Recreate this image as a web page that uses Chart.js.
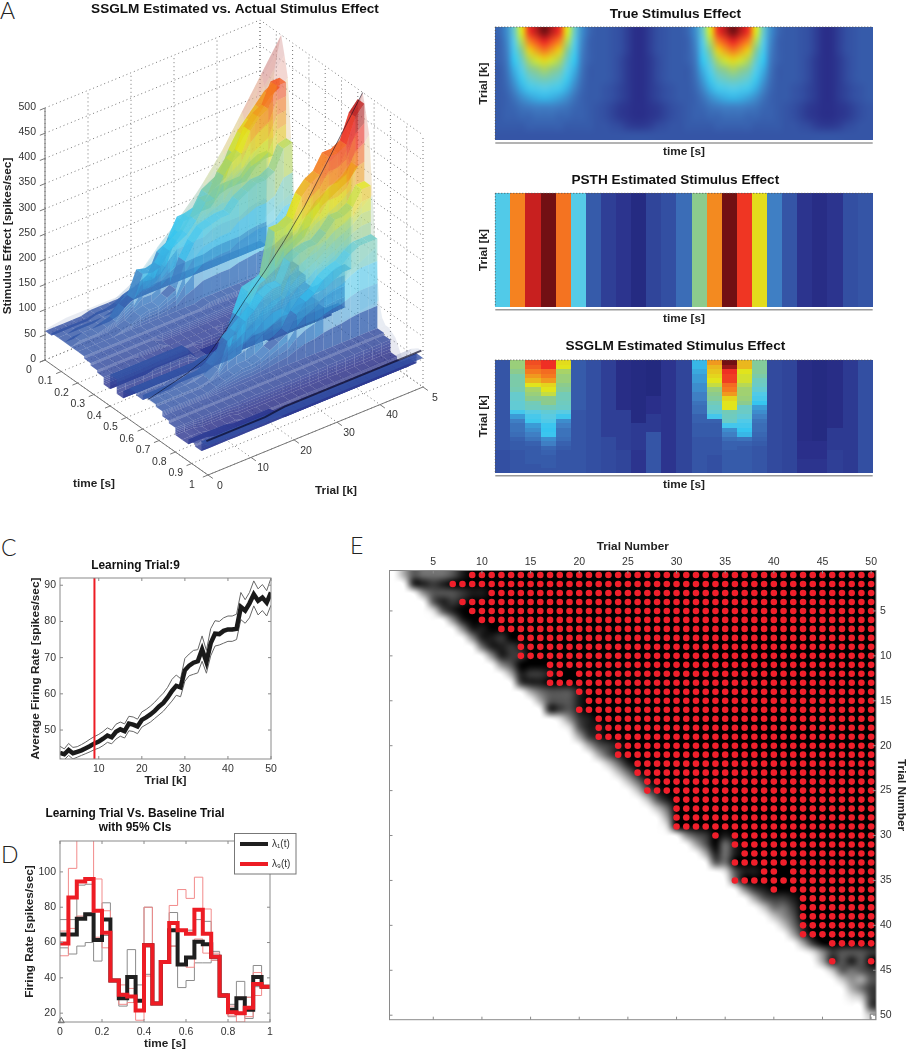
<!DOCTYPE html>
<html>
<head>
<meta charset="utf-8">
<title>Stimulus effect figure</title>
<script src="https://cdn.jsdelivr.net/npm/chart.js@4/dist/chart.umd.js"></script>
<style>
  html, body { margin: 0; background: #fff; }
  body { position: relative; width: 907px; height: 1050px; overflow: hidden; }
  canvas { position: absolute; }
  .letter { position: absolute; font: 300 23px Lato, "Open Sans", sans-serif; color: #222; line-height: 1; }
</style>
</head>
<body>
<div class="letter" style="left:0px;top:-1px">A</div>
<div class="letter" style="left:1px;top:536px">C</div>
<div class="letter" style="left:1px;top:843px">D</div>
<div class="letter" style="left:350px;top:534px">E</div>
<canvas id="surface" style="left:0;top:0" width="470" height="520"></canvas>
<canvas id="trueMap" style="left:478px;top:0" width="414" height="162"></canvas>
<canvas id="psthMap" style="left:478px;top:166px" width="414" height="163"></canvas>
<canvas id="ssglmMap" style="left:478px;top:333px" width="414" height="162"></canvas>
<canvas id="learning" style="left:0;top:550px" width="333" height="240"></canvas>
<canvas id="compare" style="left:0;top:790px" width="336" height="260"></canvas>
<canvas id="matrix" style="left:380px;top:530px" width="527" height="500"></canvas>

<script>
// ================= DATA =================

// colour levels are percent of the jet range
const psthLevels = [36, 75, 91, 100, 77, 37, 14, 9, 7, 4, 10, 12, 17, 50, 74, 100, 85, 63, 20, 13, 7, 5, 7, 12, 13];

// one list per time bin, trial 50 (top of the map) down to trial 0
const ssglmLevels = [
  [13,13,13,13,13,13,13,13,13,13,13,13,13,13,13,13,13,13,13,13,12,12,12,12,12],
  [52,52,50,46,46,46,45,41,41,40,40,33,24,20,18,18,17,15,14,14,13,13,13,13,13],
  [82,80,76,72,68,62,54,52,50,44,43,38,34,32,24,22,20,18,15,14,14,14,14,13,13],
  [86,86,78,76,72,64,62,58,50,50,44,40,38,36,31,30,31,22,20,16,15,14,14,14,13],
  [63,62,54,52,52,50,48,44,44,43,42,38,32,22,20,18,18,17,15,14,13,13,13,13,13],
  [14,14,14,14,14,14,14,14,14,14,14,13,13,13,13,13,13,13,13,13,13,13,13,13,13],
  [12,12,12,12,12,12,12,12,12,12,12,12,12,12,12,12,12,12,12,12,12,12,12,12,12],
  [9,9,9,9,9,9,9,9,9,9,9,9,9,9,9,9,9,11,11,11,11,11,11,11,11],
  [5,5,5,5,5,5,5,5,5,5,5,9,9,9,9,9,9,9,9,9,10,10,10,10,10],
  [4,4,4,4,4,4,4,4,4,4,4,4,4,4,8,8,8,8,8,8,7,7,7,7,7],
  [3,3,3,3,3,3,3,3,6,6,6,6,8,8,8,8,13,13,13,13,13,13,13,13,13],
  [7,7,7,7,7,7,7,7,7,7,7,7,7,7,7,7,7,7,7,7,7,7,7,7,7],
  [10,10,10,10,10,10,10,10,10,10,10,10,10,10,10,10,10,10,10,10,10,10,10,10,10],
  [28,28,26,24,24,22,22,20,20,18,17,17,15,15,14,14,14,13,13,13,13,13,13,13,13],
  [72,68,66,64,62,58,52,50,48,44,42,40,33,15,14,14,14,13,13,13,13,12,12,12,12],
  [100,96,86,84,84,78,76,72,64,62,62,44,43,42,33,22,20,17,15,15,14,14,14,14,14],
  [68,68,62,60,60,56,53,53,52,50,42,42,40,36,33,30,28,18,15,14,14,14,14,14,14],
  [48,48,48,46,43,42,40,36,34,30,24,22,20,18,17,17,16,15,14,13,13,13,13,13,13],
  [11,11,11,11,11,11,11,11,11,11,11,11,11,11,11,11,11,11,11,11,11,11,11,11,11],
  [10,10,10,10,10,10,10,10,10,10,10,10,10,10,10,10,10,10,10,10,10,10,10,10,10],
  [5,5,5,5,5,5,5,5,5,5,5,5,5,5,5,5,5,5,6,6,6,6,7,7,7],
  [4,4,4,4,4,4,4,4,4,4,4,4,4,4,4,4,4,4,6,6,6,6,7,7,7],
  [5,5,5,5,5,5,5,5,5,5,5,5,5,5,5,8,8,8,8,8,9,9,9,9,9],
  [8,8,8,8,8,8,8,8,8,8,8,8,8,8,8,8,8,8,8,8,8,8,8,8,8],
  [12,12,12,12,12,12,12,12,12,12,12,12,12,12,12,12,12,12,12,12,12,12,12,12,12]
];

// one period of the true effect, trial 50 down to trial 0; it repeats once
const truePeriod = [
  [16,22,42,62,85,93,100,93,85,62,42,22,16,14,14,13,12,9,6,6,9,12,13,14,14],
  [15,21,38,56,75,82,88,82,75,56,38,21,15,14,14,13,12,9,6,6,9,12,13,14,14],
  [15,20,34,49,65,71,76,71,65,49,34,20,15,14,14,13,12,9,6,6,9,12,13,14,14],
  [15,19,30,42,55,60,64,60,55,42,30,19,15,14,14,13,11,8,6,6,8,11,13,14,14],
  [14,18,27,37,47,51,54,51,47,37,27,18,14,14,14,13,11,8,6,6,8,11,13,14,14],
  [14,17,24,32,40,43,45,43,40,32,24,17,14,14,14,13,11,8,6,6,8,11,13,14,14],
  [14,16,21,27,33,35,37,35,33,27,21,16,14,14,13,12,10,8,6,6,8,10,12,13,14],
  [14,15,18,22,25,27,28,27,25,22,18,15,14,14,13,12,10,8,6,6,8,10,12,13,14],
  [14,15,16,18,19,20,20,20,19,18,16,15,14,13,12,10,8,7,6,6,7,8,10,12,13],
  [14,15,15,16,16,17,17,17,16,16,15,15,14,13,12,10,8,7,6,6,7,8,10,12,13],
  [14,14,14,14,15,15,15,15,15,14,14,14,14,13,13,12,11,9,8,8,9,11,12,13,13],
  [13,13,13,13,13,13,13,13,13,13,13,13,13,13,13,13,13,13,13,13,13,13,13,13,13]
];

const jetStops  = [0, 6, 12.5, 20, 30, 37.5, 50, 62, 75, 87, 100];
const jetColors = ["#1c2273", "#2a2f8a", "#3452a4", "#3f7fc4", "#36c5f0", "#58cbe6", "#8ccb8d", "#e1e41c", "#f58220", "#ee2724", "#721013"];

const surfTimeTicks  = [0, 0.1, 0.2, 0.3, 0.4, 0.5, 0.6, 0.7, 0.8, 0.9, 1];
const surfTrialTicks = [0, 10, 20, 30, 40, 50];
const surfTrialLabels = ["0", "10", "20", "30", "40", "5"]; // last one is cut off in the figure
const surfRateTicks  = [0, 50, 100, 150, 200, 250, 300, 350, 400, 450, 500];

const learnTrials = [1,2,3,4,5,6,7,8,9,10,11,12,13,14,15,16,17,18,19,20,21,22,23,24,25,26,27,28,29,30,31,32,33,34,35,36,37,38,39,40,41,42,43,44,45,46,47,48,49,50];
const learnMean = [43.7,43.3,44.5,43.6,44,44.4,45,45.6,46.3,46.8,47.6,48.5,48,49.5,50.2,49.7,51.8,51.5,51,52.8,53.5,54.3,55.3,56.5,57.5,59,60.8,62.2,61.8,66.5,67.8,68.6,69,72.3,68.8,74,76.6,76.5,77.4,77.8,77.8,78,84,83,85,87.5,85.7,86.6,85.2,88];
const learnUpper = [45.5,44.8,46.3,45.2,45.4,46,46.7,47.5,48.2,48.8,49.6,50.6,50,51.6,52.2,51.7,53.8,53.6,53,55,55.7,56.6,57.7,59,60.2,61.8,64,65.2,64.2,69.8,71,72,72.2,76,72,78,80.2,80,81,81.5,81.5,82,88,86,88,91.2,89,90.2,88.5,92];
const learnLower = [42,41.8,43,42,42.5,43,43.5,44,44.6,45,45.7,46.6,46.2,47.5,48.3,47.8,49.8,49.6,49,50.8,51.5,52.2,53.2,54.2,55.2,56.6,58,59.6,59.2,63.5,65,65.4,65.8,69,65.7,70.5,73.2,73.5,74,74.5,74.5,75,80.5,79.5,81,84.3,81.8,83,81.5,84.5];
const learningTrial = 9;
const learnXTicks = [10, 20, 30, 40, 50];
const learnYTicks = [50, 60, 70, 80, 90];

const timeEdges = [0,0.04,0.08,0.12,0.16,0.2,0.24,0.28,0.32,0.36,0.4,0.44,0.48,0.52,0.56,0.6,0.64,0.68,0.72,0.76,0.8,0.84,0.88,0.92,0.96];
const rateFirst = [64.5,64.5,73.5,76,61.5,73,38.5,28.5,40.5,27,58.5,25.5,49,67,47.5,51.5,60.5,59,52,30,22,28.5,22,40.5,35];
const rateFirstUp = [73,73,92.5,93,78,82.5,39,31,56,36,80,26,49.5,77,67,67,73,72,55,31,25,38,29,47,35];
const rateFirstLo = [57,53.5,58,60,49.5,64,38,24,30,22,42,25,48.5,58,34.5,38.5,48.5,48.5,50,29,18,20,17,35,34.5];
const rateLearn = [59.5,85.5,94.5,96,78,65.5,38.5,30.5,29.5,21.5,58.5,25.5,49,71,67,65,78.5,65,52,30,20.5,20,23,36.5,35];
const rateLearnUp = [66.5,102,122,122,96,78,39,36,34,27,80,26,49.5,81,90,85,97,79,54,31,24,29,29,43,35];
const rateLearnLo = [52.5,68,75,75.5,63,57,38,25,26,16,41,25,48.5,58,47,46,62,54,50,29.5,18.5,15,18,30,34.5];
const compareXTicks = [0, 0.2, 0.4, 0.6, 0.8, 1];
const compareYTicks = [20, 40, 60, 80, 100];

// grey matrix: each row starts with greyLead white cells, then greyTail (0 black .. 9 white), then black
const greyLead = [1,2,3,4,4,6,7,8,9,10,11,12,13,14,15,16,17,18,19,20,21,22,23,24,25,26,27,28,28,30,31,32,33,34,35,36,37,38,39,40,41,42,43,44,45,46,47,47,49,49];
const greyTail = ["6344431","1121","5333211","3121","831","51","511","5112","41121","5122","53","61221","211","643331","63331","1231","8521","8311","621","6321","631","741","741","741","731","731","74","6","8","53201","63041","6141","34","8311","4","521","63221","7442","753","741","62","62","8523332","613130","73432","7563","642","872","2","7"];

// significant cells: per row, inclusive [first, last] trial ranges
const sigRanges = [
  [[9,50]],[[7,50]],[[11,50]],[[8,50]],[[9,50]],[[10,50]],[[12,50]],[[14,50]],[[14,50]],[[14,50]],
  [[17,50]],[[17,18],[20,50]],[[17,50]],[[20,50]],[[21,50]],[[20,50]],[[22,50]],[[22,50]],[[22,50]],[[24,50]],
  [[24,50]],[[26,50]],[[26,50]],[[27,50]],[[27,50]],[[30,50]],[[30,50]],[[30,50]],[[30,50]],[[34,34],[36,50]],
  [[36,50]],[[37,50]],[[36,50]],[[39,40],[42,50]],[[36,50]],[[40,40],[42,50]],[[43,50]],[[43,50]],[[43,50]],[[43,50]],
  [[43,50]],[[46,50]],[],[[46,46],[50,50]],[],[],[],[],[],[]
];
const matrixTicks = [5, 10, 15, 20, 25, 30, 35, 40, 45, 50];

// ================= HELPERS =================

Chart.defaults.font.family = '"Liberation Sans", Arial, sans-serif';
Chart.defaults.color = "#333";
Chart.defaults.animation = false;
Chart.defaults.responsive = false;
Chart.defaults.plugins.legend.display = false;
Chart.defaults.plugins.tooltip.enabled = false;

const hex = c => [1, 3, 5].map(i => parseInt(c.substr(i, 2), 16));

function jet(level) {
  const v = Math.max(0, Math.min(100, level));
  let i = 0;
  while (i < jetStops.length - 2 && v > jetStops[i + 1]) i++;
  const f = (v - jetStops[i]) / (jetStops[i + 1] - jetStops[i]);
  const a = hex(jetColors[i]), b = hex(jetColors[i + 1]);
  return a.map((p, n) => Math.round(p + (b[n] - p) * f));
}

const rgba = (c, a) => `rgba(${c[0]},${c[1]},${c[2]},${a})`;

function axisTitle(text, padding) {
  return { display: true, text, color: "#222", padding: { top: padding, bottom: padding }, font: { size: 11.8, weight: "bold", lineHeight: 1 } };
}

function axis(position, min, max, fit, ticks, extra, tickPadding) {
  const horizontal = position === "top" || position === "bottom";
  return Object.assign({
    type: "linear", position, min, max,
    grid: { display: false, drawTicks: false },
    border: { display: false },
    ticks: { display: ticks.length > 0, color: "#333", font: { size: 10.5 }, padding: tickPadding === undefined ? 4 : tickPadding, autoSkip: false, maxRotation: 0, callback: v => String(v) },
    afterBuildTicks: s => { s.ticks = ticks.map(value => ({ value })); },
    afterFit: s => { if (horizontal) s.height = fit; else s.width = fit; }
  }, extra);
}

function panelTitle(text, size, top, bottom, lineHeight) {
  return { display: true, text, color: "#111", padding: { top, bottom }, font: { size, weight: "bold", lineHeight: lineHeight || 1 } };
}

// MATLAB style box with ticks pointing in, on all four sides
const boxPlugin = {
  id: "box",
  afterDatasetsDraw(chart) {
    const { ctx, chartArea: a, scales } = chart;
    ctx.save();
    ctx.strokeStyle = "#8a8a8a";
    ctx.lineWidth = 1;
    ctx.strokeRect(a.left, a.top, a.right - a.left, a.bottom - a.top);
    ctx.beginPath();
    scales.x.ticks.forEach(t => {
      const x = scales.x.getPixelForValue(t.value);
      ctx.moveTo(x, a.top); ctx.lineTo(x, a.top + 3);
      ctx.moveTo(x, a.bottom); ctx.lineTo(x, a.bottom - 3);
    });
    scales.y.ticks.forEach(t => {
      const y = scales.y.getPixelForValue(t.value);
      ctx.moveTo(a.left, y); ctx.lineTo(a.left + 3, y);
      ctx.moveTo(a.right, y); ctx.lineTo(a.right - 3, y);
    });
    ctx.stroke();
    ctx.restore();
  }
};

// paints a level grid (rows x cols) into the plot through its scales
function heatPlugin(rows, smooth) {
  return {
    id: "heat",
    beforeDatasetsDraw(chart) {
      const { ctx, scales } = chart;
      const off = document.createElement("canvas");
      off.width = rows[0].length;
      off.height = rows.length;
      const octx = off.getContext("2d");
      rows.forEach((row, r) => row.forEach((v, c) => {
        octx.fillStyle = rgba(jet(v), 1);
        octx.fillRect(c, r, 1, 1);
      }));
      const x0 = scales.x.getPixelForValue(0), x1 = scales.x.getPixelForValue(1);
      const y0 = scales.y.getPixelForValue(50), y1 = scales.y.getPixelForValue(0);
      ctx.save();
      ctx.imageSmoothingEnabled = smooth;
      ctx.imageSmoothingQuality = "high";
      ctx.drawImage(off, x0, y0, x1 - x0, y1 - y0);
      // rule under the map and dotted left edge
      ctx.strokeStyle = "#9a9a9a";
      ctx.lineWidth = 1.5;
      ctx.beginPath();
      ctx.moveTo(x0, y1 + 3); ctx.lineTo(x1, y1 + 3);
      ctx.stroke();
      ctx.strokeStyle = "#555";
      ctx.lineWidth = 1;
      ctx.setLineDash([1, 2]);
      ctx.beginPath();
      ctx.moveTo(x0, y0); ctx.lineTo(x0, y1); ctx.moveTo(x0, y0); ctx.lineTo(x1, y0);
      ctx.stroke();
      ctx.restore();
    }
  };
}

function heatMap(id, rows, smooth, title, titleTop, titleBottom, axisFit) {
  return new Chart(document.getElementById(id), {
    type: "scatter",
    data: { datasets: [] },
    options: {
      layout: { padding: { right: 19.3 } },
      plugins: { title: panelTitle(title, 13.6, titleTop, titleBottom) },
      scales: {
        x: axis("bottom", 0, 1, axisFit, [], { title: axisTitle("time [s]", 4) }),
        y: axis("left", 0, 50, 17.3, [], { title: axisTitle("Trial [k]", 0) })
      }
    },
    plugins: [heatPlugin(rows, smooth)]
  });
}

// ================= PANEL A =================

// oblique view of the box: screen position for (time, trial, rate)
const view = { x0: 45, y0: 360, tx: 163, ty: 115, kx: 215, ky: -88, zs: 0.504 };
function project(t, k, z) {
  return {
    x: view.x0 + t * view.tx + k / 50 * view.kx,
    y: view.y0 + t * view.ty + k / 50 * view.ky - z * view.zs
  };
}
const trueRate = 5;    // spikes/sec for one percent of level, true surface
const ssglmRate = 4.8; // same for the estimate

const surfLine = (data, dashed) => ({
  data, showLine: true, pointRadius: 0, borderWidth: 1,
  borderColor: "#777", borderDash: dashed ? [1, 3] : []
});

const frameLines = [];
surfRateTicks.forEach(z => {
  frameLines.push(surfLine([project(0, 0, z), project(0, 50, z), project(1, 50, z)], true));
  frameLines.push(surfLine([project(0, 0, z), project(0, -1.2, z)], false));
});
surfTrialTicks.forEach(k => {
  frameLines.push(surfLine([project(0, k, 0), project(0, k, 500)], true));
  frameLines.push(surfLine([project(0, k, 0), project(1, k, 0)], true));
  frameLines.push(surfLine([project(1, k, 0), project(1.03, k, 0)], false));
});
surfTimeTicks.forEach(t => {
  frameLines.push(surfLine([project(t, 50, 0), project(t, 50, 500)], true));
  frameLines.push(surfLine([project(t, 0, 0), project(t, 50, 0)], true));
  frameLines.push(surfLine([project(t, 0, 0), project(t, -1.2, 0)], false));
});
frameLines.push(surfLine([project(0, 0, 0), project(0, 0, 500)], false));
frameLines.push(surfLine([project(0, 0, 0), project(1, 0, 0)], false));
frameLines.push(surfLine([project(1, 0, 0), project(1, 50, 0)], false));

const surfacePlugin = {
  id: "surface3d",
  afterDatasetsDraw(chart) {
    const { ctx, scales } = chart;
    const px = p => [scales.x.getPixelForValue(p.x), scales.y.getPixelForValue(p.y)];
    const poly = (pts, fill) => {
      ctx.fillStyle = fill;
      ctx.beginPath();
      pts.forEach((p, i) => {
        const [x, y] = px(p);
        if (i) ctx.lineTo(x, y); else ctx.moveTo(x, y);
      });
      ctx.closePath();
      ctx.fill();
    };
    ctx.save();

    // true surface, pale and behind, far side first
    const trueRows = truePeriod.map(r => r.concat(r));
    const nCols = trueRows[0].length;
    const trueK = r => 50 - 50 * r / (trueRows.length - 1);
    const trueT = c => (c + 0.5) / nCols;
    for (let c = 0; c < nCols - 1; c++) {
      for (let r = 0; r < trueRows.length - 1; r++) {
        const lv = (trueRows[r][c] + trueRows[r + 1][c] + trueRows[r][c + 1] + trueRows[r + 1][c + 1]) / 4;
        const col = jet(lv).map(v => Math.round(v + (215 - v) * 0.6));
        poly([
          project(trueT(c), trueK(r), trueRows[r][c] * trueRate),
          project(trueT(c + 1), trueK(r), trueRows[r][c + 1] * trueRate),
          project(trueT(c + 1), trueK(r + 1), trueRows[r + 1][c + 1] * trueRate),
          project(trueT(c), trueK(r + 1), trueRows[r + 1][c] * trueRate)
        ], rgba(col, lv > 30 ? 0.4 : 0.22));
      }
    }

    // estimated surface: stepped in time, walls between the bins
    const nBins = ssglmLevels.length;
    const nRows = ssglmLevels[0].length;
    const rowK = r => 50 - 50 * r / (nRows - 1);
    for (let c = 0; c < nBins; c++) {
      const t0 = c / nBins, t1 = (c + 1) / nBins;
      const cur = ssglmLevels[c];
      for (let r = 0; r < nRows - 1; r++) {
        const k0 = rowK(r), k1 = rowK(r + 1);
        const lv = (cur[r] + cur[r + 1]) / 2;
        poly([
          project(t0, k0, cur[r] * ssglmRate), project(t1, k0, cur[r] * ssglmRate),
          project(t1, k1, cur[r + 1] * ssglmRate), project(t0, k1, cur[r + 1] * ssglmRate)
        ], rgba(jet(lv > 20 ? lv - 6 : lv), 0.8));
      }
      if (c === nBins - 1) continue;
      const next = ssglmLevels[c + 1];
      for (let r = 0; r < nRows - 1; r++) {
        const k0 = rowK(r), k1 = rowK(r + 1);
        const slices = 4;
        for (let s = 0; s < slices; s++) {
          const mix = (a, b, f) => a + (b - a) * f;
          const a0 = mix(cur[r], next[r], s / slices), a1 = mix(cur[r], next[r], (s + 1) / slices);
          const b0 = mix(cur[r + 1], next[r + 1], s / slices), b1 = mix(cur[r + 1], next[r + 1], (s + 1) / slices);
          const lv = (a0 + a1 + b0 + b1) / 4;
          poly([
            project(t1, k0, a0 * ssglmRate), project(t1, k1, b0 * ssglmRate),
            project(t1, k1, b1 * ssglmRate), project(t1, k0, a1 * ssglmRate)
          ], rgba(jet(lv), lv < 22 ? 0.8 : 0.5));
        }
      }
    }

    // dark edges of the true surface showing through
    [[31, 1, "rgba(10,10,30,0.55)"], [49, 2, "rgba(10,10,40,0.7)"]].forEach(([c, width, color]) => {
      ctx.strokeStyle = color;
      ctx.lineWidth = width;
      ctx.beginPath();
      trueRows.forEach((row, r) => {
        const [x, y] = px(project(trueT(c), trueK(r), row[c] * trueRate));
        if (r) ctx.lineTo(x, y); else ctx.moveTo(x, y);
      });
      ctx.stroke();
    });

    // axis text
    ctx.fillStyle = "#333";
    ctx.font = '10.5px "Liberation Sans", Arial, sans-serif';
    ctx.textBaseline = "middle";
    ctx.textAlign = "right";
    surfRateTicks.forEach(z => {
      const [x, y] = px(project(0, 0, z));
      ctx.fillText(String(z), x - 9, y - 1);
    });
    ctx.textAlign = "center";
    surfTimeTicks.forEach(t => {
      const [x, y] = px(project(t, 0, 0));
      ctx.fillText(String(t), x - 16, y + 10);
    });
    surfTrialTicks.forEach((k, i) => {
      const [x, y] = px(project(1, k, 0));
      ctx.fillText(surfTrialLabels[i], x + 12, y + 11);
    });
    ctx.fillStyle = "#222";
    ctx.font = 'bold 11.8px "Liberation Sans", Arial, sans-serif';
    ctx.fillText("time [s]", 94, 484);
    ctx.fillText("Trial [k]", 336, 491);
    ctx.translate(8, 236);
    ctx.rotate(-Math.PI / 2);
    ctx.fillText("Stimulus Effect [spikes/sec]", 0, 0);
    ctx.restore();
  }
};

new Chart(document.getElementById("surface"), {
  type: "scatter",
  data: { datasets: frameLines },
  options: {
    plugins: { title: panelTitle("SSGLM Estimated vs. Actual Stimulus Effect", 13.6, 2.2, 2.2) },
    scales: {
      x: { type: "linear", display: false, min: 0, max: 470 },
      y: { type: "linear", display: false, min: 18, max: 520, reverse: true }
    }
  },
  plugins: [surfacePlugin]
});

// ================= PANEL B =================

heatMap("trueMap", truePeriod.map(r => r.concat(r)), true, "True Stimulus Effect", 7.2, 6.2, 22);
heatMap("psthMap", [psthLevels], false, "PSTH Estimated Stimulus Effect", 7.2, 6.5, 22.3);
heatMap("ssglmMap", ssglmLevels[0].map((_, r) => ssglmLevels.map(col => col[r])), false, "SSGLM Estimated Stimulus Effect", 6.7, 6.7, 22.3);

// ================= PANEL C =================

const xy = (xs, ys) => xs.map((x, i) => ({ x, y: ys[i] }));
const trace = (data, color, width, extra) => Object.assign({ data, showLine: true, pointRadius: 0, borderColor: color, borderWidth: width }, extra);

new Chart(document.getElementById("learning"), {
  type: "scatter",
  data: {
    datasets: [
      trace(xy([learningTrial, learningTrial], [42, 92]), "#ed1c24", 2),
      trace(xy(learnTrials, learnMean), "#1a1a1a", 4.5, { borderJoinStyle: "miter" }),
      trace(xy(learnTrials, learnUpper), "#666", 1),
      trace(xy(learnTrials, learnLower), "#666", 1)
    ]
  },
  options: {
    layout: { padding: { right: 62 } },
    plugins: { title: panelTitle("Learning Trial:9", 11.9, 9.6, 6.5) },
    scales: {
      x: axis("bottom", 1, 50, 31, learnXTicks, { title: axisTitle("Trial [k]", 3) }),
      y: axis("left", 42, 92, 60, learnYTicks, { title: axisTitle("Average Firing Rate [spikes/sec]", 30) })
    }
  },
  plugins: [boxPlugin]
});

// ================= PANEL D =================

// stepped traces hold the bin value until the next edge, so repeat the last bin at t = 1
const steps = vals => xy(timeEdges.concat([1]), vals.concat(vals[vals.length - 1]));
const stepTrace = (vals, color, width) => trace(steps(vals), color, width, { stepped: true, borderJoinStyle: "miter" });

new Chart(document.getElementById("compare"), {
  type: "scatter",
  data: {
    datasets: [
      { data: [{ x: 0.006, y: 15.6 }], pointStyle: "triangle", pointRadius: 3.5, borderColor: "#555", borderWidth: 1, backgroundColor: "#fff", clip: false },
      Object.assign(stepTrace(rateLearn, "#ed1c24", 4), { label: "λ₉(t)" }),
      Object.assign(stepTrace(rateFirst, "#1f1f1f", 4), { label: "λ₁(t)" }),
      stepTrace(rateLearnUp, "#f28b8b", 1),
      stepTrace(rateLearnLo, "#f28b8b", 1),
      stepTrace(rateFirstUp, "#8c8c8c", 1),
      stepTrace(rateFirstLo, "#8c8c8c", 1)
    ]
  },
  options: {
    layout: { padding: { right: 66 } },
    plugins: { title: panelTitle(["Learning Trial Vs. Baseline Trial", "with 95% CIs"], 11.9, 17, 6, 14 / 11.9) },
    scales: {
      x: axis("bottom", 0, 1, 28, compareXTicks, { title: axisTitle("time [s]", 0) }),
      y: axis("left", 15, 117.5, 60, compareYTicks, { title: axisTitle("Firing Rate [spikes/sec]", 24) })
    }
  },
  plugins: [boxPlugin, {
    id: "traceLegend",
    afterDraw(chart) {
      const { ctx, data } = chart;
      const entries = [data.datasets[2], data.datasets[1]];
      ctx.save();
      ctx.fillStyle = "#fff";
      ctx.strokeStyle = "#777";
      ctx.lineWidth = 1;
      ctx.fillRect(234.5, 43.5, 61.5, 40.5);
      ctx.strokeRect(234.5, 43.5, 61.5, 40.5);
      entries.forEach((d, i) => {
        const y = 54 + i * 20;
        ctx.strokeStyle = d.borderColor;
        ctx.lineWidth = 4;
        ctx.beginPath();
        ctx.moveTo(240, y); ctx.lineTo(268, y);
        ctx.stroke();
        ctx.fillStyle = "#333";
        ctx.font = '10px "Liberation Sans", "DejaVu Sans", sans-serif';
        ctx.textBaseline = "middle";
        ctx.fillText(d.label, 272, y);
      });
      ctx.restore();
    }
  }]
});

// ================= PANEL E =================

const sigPoints = [];
sigRanges.forEach((ranges, r) => ranges.forEach(([from, to]) => {
  for (let c = from; c <= to; c++) sigPoints.push({ x: c, y: r + 1 });
}));

const greyPlugin = {
  id: "grey",
  beforeDatasetsDraw(chart) {
    const { ctx, scales } = chart;
    const off = document.createElement("canvas");
    off.width = 50; off.height = 50;
    const octx = off.getContext("2d");
    greyTail.forEach((tail, r) => {
      const cells = "9".repeat(greyLead[r]) + tail;
      for (let c = 0; c < 50; c++) {
        const g = Math.round((Number(cells[c] || 0) / 9) * 255);
        octx.fillStyle = rgba([g, g, g], 1);
        octx.fillRect(c, r, 1, 1);
      }
    });
    const x0 = scales.x.getPixelForValue(0.5), x1 = scales.x.getPixelForValue(50.5);
    const y0 = scales.y.getPixelForValue(0.5), y1 = scales.y.getPixelForValue(50.5);
    ctx.save();
    ctx.imageSmoothingEnabled = true;
    ctx.imageSmoothingQuality = "high";
    ctx.drawImage(off, x0, y0, x1 - x0, y1 - y0);
    ctx.restore();
  }
};

new Chart(document.getElementById("matrix"), {
  type: "scatter",
  data: {
    datasets: [
      { data: [{ x: 50.2, y: 50.2 }], pointStyle: "rect", pointRadius: 4, borderColor: "#777", borderWidth: 1, backgroundColor: "#fff" },
      { data: sigPoints, pointRadius: 3.3, pointBorderWidth: 0, backgroundColor: "#f01f2b" }
    ]
  },
  options: {
    layout: { padding: { left: 9.5, bottom: 7.5 } },
    scales: {
      x: axis("top", 0.5, 50.5, 40.5, matrixTicks, { title: axisTitle("Trial Number", 11) }, 2),
      y: axis("right", 0.5, 50.5, 31, matrixTicks, { reverse: true, title: axisTitle("Trial Number", 0) })
    }
  },
  plugins: [greyPlugin, boxPlugin]
});
</script>
</body>
</html>
